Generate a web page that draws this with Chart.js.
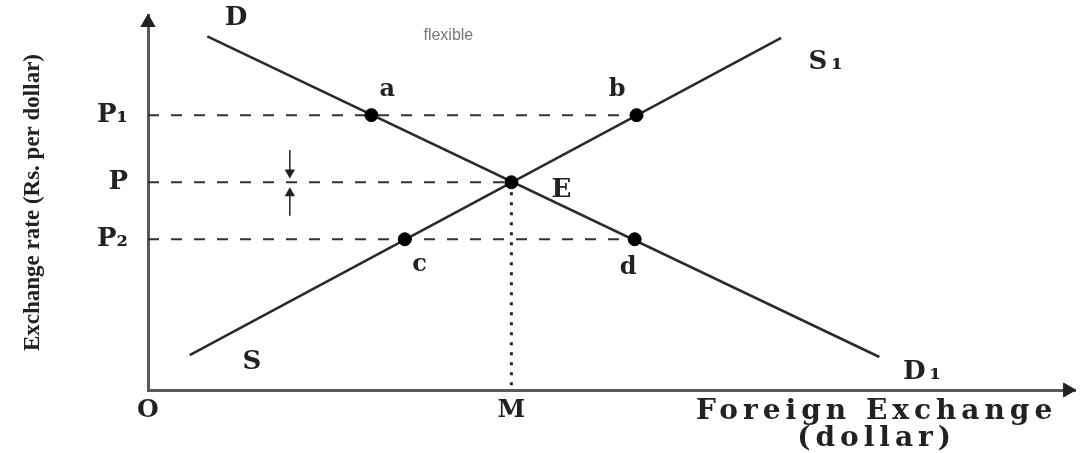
<!DOCTYPE html>
<html>
<head>
<meta charset="utf-8">
<script src="https://cdn.jsdelivr.net/npm/chart.js@4/dist/chart.umd.min.js"></script>
<style>
    html, body { margin: 0; padding: 0; background: #fff; }
    #wrap { width: 1084px; height: 453px; position: relative; }
</style>
</head>
<body>
<div id="wrap"><canvas id="chart"></canvas></div>
<script>
// curves (foreign exchange on x, exchange rate on y)
const demandCurve = [{ x: 6.4, y: 94.3 }, { x: 78.9, y: 8.8 }];
const supplyCurve = [{ x: 4.5, y: 9.3 }, { x: 68.3, y: 93.9 }];

// price levels and their axis labels
const priceLevels = [73.3, 55.4, 40.2];
const priceLabels = ['P\u2081', 'P', 'P\u2082'];

// quantity ticks
const quantityTicks = [0, 39.2];
const quantityLabels = ['O', 'M'];

// marked points a, b, E, c, d
const pointNames = ['a', 'b', 'E', 'c', 'd'];
const pointX = [24.1, 52.7, 39.2, 27.7, 52.5];
const pointY = [73.3, 73.3, 55.4, 40.2, 40.2];

// text labels on the diagram: [text, x, y]
const curveLabels = [
    ['D', 9.5, 99.2],
    ['S\u2081', 73.3, 87.5],
    ['a', 25.8, 80],
    ['b', 50.6, 80],
    ['E', 44.6, 53.3],
    ['c', 29.3, 33.3],
    ['d', 51.8, 32.5],
    ['S', 11.2, 7.5],
    ['D\u2081', 83.7, 4.8]
];
const axisTitleX = ['Foreign Exchange', '(dollar)'];
const axisTitleY = 'Exchange rate (Rs. per dollar)';
const noteText = 'flexible';

const ink = '#222';
const serif = '"DejaVu Serif", "Liberation Serif", serif';

let points = pointX.map((x, i) => ({ x: x, y: pointY[i] }));

// dashed guides from the axis to the last point on each level
let guideEnds = [pointX[1], pointX[2], pointX[4]];
let guides = priceLevels.map((p, i) => ({
    data: [{ x: 0, y: p }, { x: guideEnds[i], y: p }],
    showLine: true,
    borderColor: '#333',
    borderWidth: 2,
    borderDash: [11, 12],
    pointRadius: 0,
    clip: false
}));

let labelPlugin = {
    id: 'diagramLabels',
    afterDatasetsDraw(chart) {
        let ctx = chart.ctx;
        let xs = chart.scales.x;
        let ys = chart.scales.y;
        ctx.save();
        ctx.textAlign = 'center';
        ctx.textBaseline = 'middle';
        ctx.fillStyle = ink;
        curveLabels.forEach(l => {
            let upper = l[0] === l[0].toUpperCase();
            ctx.font = (upper ? 'bold 26px ' : 'bold 24px ') + serif;
            ctx.letterSpacing = l[0].length > 1 ? '4px' : '0px';
            ctx.fillText(l[0], xs.getPixelForValue(l[1]), ys.getPixelForValue(l[2]));
        });

        ctx.font = 'bold 28px ' + serif;
        ctx.letterSpacing = '5px';
        ctx.fillText(axisTitleX[0], xs.getPixelForValue(78.6), ys.getPixelForValue(-5.9));
        ctx.fillText(axisTitleX[1], xs.getPixelForValue(78.6), ys.getPixelForValue(-12.9));

        ctx.letterSpacing = '0px';
        ctx.font = '16px "Liberation Sans", Arial, sans-serif';
        ctx.fillStyle = '#777';
        ctx.fillText(noteText, xs.getPixelForValue(32.4), ys.getPixelForValue(94.4));
        ctx.restore();
    }
};

new Chart(document.getElementById('chart'), {
    type: 'scatter',
    data: {
        datasets: [
            {
                data: points,
                pointRadius: 6.5,
                pointBackgroundColor: '#000',
                pointBorderColor: '#000',
                clip: false
            },
            {
                data: demandCurve,
                showLine: true,
                borderColor: '#2a2a2a',
                borderWidth: 2.5,
                pointRadius: 0
            },
            {
                data: supplyCurve,
                showLine: true,
                borderColor: '#2a2a2a',
                borderWidth: 2.5,
                pointRadius: 0
            },
            // dotted drop line from E to M
            {
                data: [{ x: pointX[2], y: pointY[2] }, { x: pointX[2], y: 0 }],
                showLine: true,
                borderColor: '#222',
                borderWidth: 3,
                borderDash: [3, 7],
                pointRadius: 0
            },
            ...guides,
            // small arrows between P1 and P2
            {
                data: [{ x: 15.3, y: 64 }, { x: 15.3, y: 58 }],
                showLine: true,
                borderColor: '#222',
                borderWidth: 1.5,
                pointStyle: 'triangle',
                pointRadius: [0, 4.5],
                rotation: 180,
                pointBackgroundColor: '#222',
                pointBorderColor: '#222'
            },
            {
                data: [{ x: 15.3, y: 46.5 }, { x: 15.3, y: 52.5 }],
                showLine: true,
                borderColor: '#222',
                borderWidth: 1.5,
                pointStyle: 'triangle',
                pointRadius: [0, 4.5],
                rotation: 0,
                pointBackgroundColor: '#222',
                pointBorderColor: '#222'
            },
            // axis arrow heads
            {
                data: [{ x: 0, y: 98 }],
                pointStyle: 'triangle',
                pointRadius: 8,
                rotation: 0,
                pointBackgroundColor: '#222',
                pointBorderColor: '#222',
                clip: false
            },
            {
                data: [{ x: 99.2, y: 0 }],
                pointStyle: 'triangle',
                pointRadius: 8,
                rotation: 90,
                pointBackgroundColor: '#222',
                pointBorderColor: '#222',
                clip: false
            }
        ]
    },
    options: {
        responsive: true,
        maintainAspectRatio: false,
        animation: false,
        events: [],
        layout: {
            padding: { top: 15, right: 8, left: 0, bottom: 0 }
        },
        plugins: {
            legend: { display: false },
            tooltip: { enabled: false }
        },
        scales: {
            x: {
                type: 'linear',
                min: 0,
                max: 100,
                grid: { display: false, drawTicks: false },
                border: { display: true, color: '#5a5a52', width: 3 },
                afterBuildTicks: (scale) => {
                    scale.ticks = quantityTicks.map(v => ({ value: v }));
                },
                afterFit: (scale) => {
                    scale.height = 63;
                    scale.paddingLeft = 0;
                    scale.paddingRight = 0;
                },
                ticks: {
                    autoSkip: false,
                    maxRotation: 0,
                    padding: 5,
                    color: ink,
                    font: { family: serif, size: 25, weight: 'bold' },
                    callback: (value, index) => quantityLabels[index]
                }
            },
            y: {
                type: 'linear',
                min: 0,
                max: 100,
                grid: { display: false, drawTicks: false },
                border: { display: true, color: '#5a5a52', width: 3 },
                afterBuildTicks: (scale) => {
                    scale.ticks = priceLevels.map(v => ({ value: v }));
                },
                afterFit: (scale) => {
                    scale.width = 148;
                    scale.paddingTop = 0;
                    scale.paddingBottom = 0;
                },
                ticks: {
                    autoSkip: false,
                    padding: 20,
                    color: ink,
                    font: { family: serif, size: 26, weight: 'bold' },
                    callback: (value, index) => priceLabels[index]
                },
                title: {
                    display: true,
                    text: axisTitleY,
                    color: ink,
                    padding: { top: 19, bottom: 0 },
                    font: { family: '"Liberation Serif", serif', size: 23, weight: 'bold' }
                }
            }
        }
    },
    plugins: [labelPlugin]
});
</script>
</body>
</html>
